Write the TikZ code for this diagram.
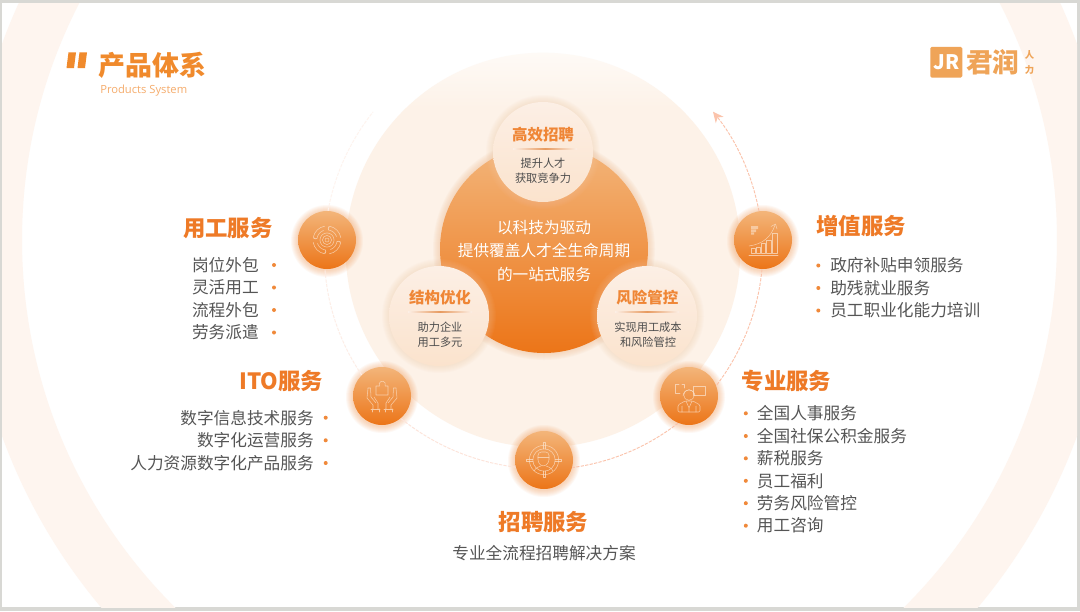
\documentclass[tikz,border=0pt]{standalone}
\usepackage{fontspec}
\setmainfont{Noto Sans CJK SC}
\newfontfamily\latinf{Open Sans}
\usetikzlibrary{arrows.meta}
\definecolor{framegray}{HTML}{D8D8D4}
\definecolor{ringpale}{HTML}{FEF5EF}
\definecolor{bigpale}{HTML}{FDF2E8}
\definecolor{bigtop}{HTML}{FEFAF6}
\definecolor{orangetop}{HTML}{F3B57A}
\definecolor{orangebot}{HTML}{EC7518}
\definecolor{glowor}{HTML}{F08A3C}
\definecolor{smalltop}{HTML}{FCEFE5}
\definecolor{smallbot}{HTML}{FBE3CD}
\definecolor{smallglow}{HTML}{F2C8A4}
\definecolor{heador}{HTML}{EE7A27}
\definecolor{paleor}{HTML}{EF8636}
\definecolor{titleor}{HTML}{F08A2C}
\definecolor{subor}{HTML}{F5AC6C}
\definecolor{logoor}{HTML}{EFA458}
\definecolor{bodygray}{HTML}{555555}
\definecolor{bulletor}{HTML}{F0893A}
\definecolor{dashA}{HTML}{FBC3AB}
\definecolor{dashB}{HTML}{FDE3D9}
\definecolor{dashC}{HTML}{FDEDE6}
\definecolor{dashD}{HTML}{FEF3EE}
\definecolor{iconline}{HTML}{FBE3CE}
\definecolor{divor}{HTML}{E79A5F}
\pgfdeclareverticalshading{discfade}{100bp}{color(0bp)=(bigpale); color(68bp)=(bigpale); color(75bp)=(bigtop); color(100bp)=(bigtop)}
\newcommand{\glowdisc}[5]{% x y r colour opacity
  \foreach \gi in {1,...,7}{\fill[#4,opacity=#5] (#1,#2) circle[radius={(#3+\gi)*0.75pt}];}}
\newcommand{\fsz}[1]{\fontsize{#1}{#1}\selectfont}
\tikzset{
  x=0.75pt,y=-0.75pt,
  iconball/.style={circle,inner sep=0pt,minimum size=43.5pt,top color=orangetop,bottom color=orangebot,draw=none},
  paleball/.style={circle,inner sep=0pt,minimum size=75pt,top color=smalltop,bottom color=smallbot,draw=none},
  corehub/.style={circle,inner sep=0pt,minimum size=156pt,top color=orangetop,bottom color=orangebot,draw=none},
  svctitle/.style={font=\bfseries\fsz{16.8},text=heador,inner sep=0pt},
  svcitem/.style={font=\fsz{12.5},text=bodygray,inner sep=0pt},
  dotmark/.style={circle,fill=bulletor,inner sep=0pt,minimum size=3pt},
  paletitle/.style={font=\bfseries\fsz{11.6},text=paleor,inner sep=0pt},
  palesub/.style={font=\fsz{8.4},text=bodygray!90!black,inner sep=0pt},
  ringdash/.style={line width=0.7pt,dash pattern=on 2.4pt off 1pt,looseness=0.87},
  iconpen/.style={draw=iconline,line width=0.4pt,line cap=round,line join=round,draw opacity=0.72},
}
\begin{document}
\begin{tikzpicture}
\useasboundingbox (0,0) rectangle (1080,611);
\fill[framegray] (0,0) rectangle (1080,611);
\fill[white] (2,3) rectangle (1077,607);
\begin{scope}
  \clip (2,3) rectangle (1077,607);
  \fill[ringpale,even odd rule] (539.5,240) circle[radius=429pt] (539.5,240) circle[radius=388.1pt];
\end{scope}
% big pale disc
\shade[shading=discfade] (543,250) circle[radius=148pt];
% title
\fill[titleor] (68.5,52.3) -- (76,52.3) -- (74,68) -- (66.5,68) -- cycle;
\fill[titleor] (79.5,52.3) -- (87,52.3) -- (85,68) -- (77.5,68) -- cycle;
\node[anchor=west,inner sep=0pt,font=\bfseries\fsz{20.2},text=titleor] (maintitle) at (98,65) {产品体系};
\node[anchor=west,inner sep=0pt,font=\latinf\fsz{8.4},text=subor] (subtitle) at (100,90.5) {Products System};
% logo
\node[anchor=north west,inner sep=0pt,minimum width=24pt,minimum height=23.2pt,rounded corners=1.2pt,fill=logoor,text=white,font=\bfseries\fsz{15}] (logobox) at (930,46.5) {JR};
\node[anchor=west,inner sep=0pt,font=\bfseries\fsz{20},text=logoor] (logoname) at (966,62) {君润};
\node[inner sep=0pt,font=\bfseries\fsz{7},text=logoor] (logoren) at (1029.5,54.5) {人};
\node[inner sep=0pt,font=\bfseries\fsz{7},text=logoor] (logoli) at (1029.5,69.5) {力};
% core and three pale balls
\glowdisc{544}{249}{104}{smallglow}{0.10}
\node[corehub] (core) at (544,249) {};
\node[align=center,inner sep=0pt,text=white,font=\fontsize{11.75}{17.4}\selectfont] (coretext) at (544,251) {以科技为驱动\\提供覆盖人才全生命周期\\的一站式服务};
\glowdisc{543}{152}{50}{smallglow}{0.05}
\glowdisc{439}{316}{50}{smallglow}{0.05}
\glowdisc{647}{316}{50}{smallglow}{0.05}
\node[paleball] (ballT) at (543,152) {};
\node[paleball] (ballL) at (439,316) {};
\node[paleball] (ballR) at (647,316) {};
\shade[left color=smalltop,right color=smalltop,middle color=divor] (513,148.8) rectangle (577,149.8);
\shade[left color=smalltop,right color=smalltop,middle color=divor] (408,311.5) rectangle (472,312.5);
\shade[left color=smalltop,right color=smalltop,middle color=divor] (615,311.5) rectangle (679,312.5);
\node[paletitle] (ballTh) at (543,134.3) {高效招聘};
\node[palesub,align=center,font=\fontsize{8.4}{11}\selectfont] (ballTs) at (543,170.8) {提升人才\\获取竞争力};
\node[paletitle] (ballLh) at (440,297.3) {结构优化};
\node[palesub,align=center,font=\fontsize{8.4}{11}\selectfont] (ballLs) at (440,334.8) {助力企业\\用工多元};
\node[paletitle] (ballRh) at (647.3,297.3) {风险管控};
\node[palesub,align=center,font=\fontsize{8.4}{11}\selectfont] (ballRs) at (648,334.8) {实现用工成本\\和风险管控};
% icon balls
\glowdisc{327}{241}{29}{glowor}{0.055}
\glowdisc{382}{397}{29}{glowor}{0.055}
\glowdisc{544}{461}{29}{glowor}{0.055}
\glowdisc{689}{397}{29}{glowor}{0.055}
\glowdisc{763}{241}{29}{glowor}{0.055}
\node[iconball] (yong) at (327,240) {};
\node[iconball] (ito) at (382,396) {};
\node[iconball] (zhao) at (544,460) {};
\node[iconball] (zhuan) at (689,396) {};
\node[iconball] (zeng) at (763,240) {};
% ring connectors
\coordinate (ringtip) at (713,111.7);
\coordinate (ringend) at (373,112);
\draw[ringdash,dashA,-{Stealth[length=8pt,width=7.5pt,inset=2.5pt]}] (zeng.98) to[bend right=14] (ringtip);
\draw[ringdash,dashA] (zeng.-92) to[bend left=16] (zhuan.21);
\draw[ringdash,dashA] (zhuan.-112) to[bend left=15] (zhao.-15);
\draw[ringdash,dashB] (zhao.194) to[bend left=16] (ito.-50);
\draw[ringdash,dashC] (ito.134) to[bend left=15] (yong.-94);
\draw[ringdash,dashD] (yong.88) to[bend left=14] (ringend);
% icon: yong
\begin{scope}[shift={(327,240)},iconpen]
  \draw (0,0) circle[radius=1.5pt] (0,0) circle[radius=3.4pt] (0,0) circle[radius=5.3pt];
  \foreach \a in {10,100,190,280}{
    \draw ([shift={(\a:10.5pt)}]0,0) arc[start angle=\a,delta angle=68,radius=10.5pt] -- ++(\a+68+150:2.2pt);
    \draw ([shift={(\a+10:7.6pt)}]0,0) arc[start angle=\a+10,delta angle=62,radius=7.6pt] -- ([shift={(\a+72:10.5pt)}]0,0);
  }
\end{scope}
% icon: ito
\begin{scope}[shift={(382,396)},iconpen]
  \draw (-6,-10) -- (-2.5,-10) arc[start angle=210,end angle=-30,radius=2.4pt] -- (6,-10) -- (6,-1) -- (-6,-1) -- cycle;
  \draw (-14,-8) -- (-15,2) -- (-9,9) -- (-9,13);
  \draw (-14,-8) -- (-11.5,-8) -- (-11,1) -- (-6,7);
  \draw (-4,13) -- (-4,7) -- (-8,1);
  \draw (-11,13) -- (-2,13) (-10,16) -- (-10,13) (-3,16) -- (-3,13);
  \draw (14,-8) -- (15,2) -- (9,9) -- (9,13);
  \draw (14,-8) -- (11.5,-8) -- (11,1) -- (6,7);
  \draw (4,13) -- (4,7) -- (8,1);
  \draw (11,13) -- (2,13) (10,16) -- (10,13) (3,16) -- (3,13);
\end{scope}
% icon: zhao
\begin{scope}[shift={(544,460)},iconpen]
  \draw (0,0) circle[radius=11pt];
  \draw (0,0) circle[radius=8.4pt];
  \foreach \dx/\dy in {0/-1,1/0,0/1,-1/0}{
    \draw ({\dx*11-\dy*1.2},{\dy*11-\dx*1.2}) -- ({\dx*17.5-\dy*1.2},{\dy*17.5-\dx*1.2}) -- ({\dx*17.5+\dy*1.2},{\dy*17.5+\dx*1.2}) -- ({\dx*11+\dy*1.2},{\dy*11+\dx*1.2});
  }
  \draw[rounded corners=2.5pt] (-6,-8) -- (5,-8) -- (5,3) -- (-1,7) -- (-6,3) -- cycle;
  \draw (-6,-3) -- (5,-3);
  \draw (-10,11) .. controls (-8,7) and (-5,7) .. (-3,6);
  \draw (9,11) .. controls (7,7) and (4,7) .. (2,6);
\end{scope}
% icon: zhuan
\begin{scope}[shift={(689,396)},iconpen]
  \draw (-9,-3) -- (-14,-3) -- (-14,-12) -- (-10,-12) (-7,-12) -- (-5,-12) -- (-5,-8);
  \draw (4,-10) rectangle (16,-1);
  \draw (0,-1) circle[radius=4pt];
  \draw (-6,0) arc[start angle=180,end angle=0,radius=4.5pt];
  \draw[rounded corners=1pt] (-11,16) -- (-11,9) -- (-4,5) -- (4,5) -- (11,9) -- (11,16) -- cycle;
  \draw (-3,5) -- (0,12) -- (3,5) (0,12) -- (0,16) (-7,10) -- (-7,16) (7,10) -- (7,16);
\end{scope}
% icon: zeng
\begin{scope}[shift={(763,240)},iconpen]
  \fill[iconline,opacity=0.6] (-12,-14) rectangle (-5,-11) (-12,-10.5) rectangle (-7,-8) (-12,-7.5) rectangle (-9,-5.5);
  \draw (-14,15) -- (15,15);
  \draw (-12,13) rectangle (-8,8);
  \draw (-7,13) rectangle (-3,7);
  \draw (-2,13) rectangle (2,3);
  \draw (3.5,13) rectangle (8,0);
  \draw (9.5,13) rectangle (14,-7);
  \draw (-14,6) .. controls (0,4) and (8,-3) .. (12,-15);
  \draw (8,-13.5) -- (12.5,-16) -- (14,-11);
\end{scope}
% yong text
\node[svctitle,anchor=east] (yongh) at (273,228) {用工服务};
\foreach \nm/\yy/\tx in {ya/265/岗位外包,yb/287.5/灵活用工,yc/310/流程外包,yd/332.5/劳务派遣}{
  \node[svcitem,anchor=east] (\nm) at (259,\yy) {\tx};
  \node[dotmark] (\nm dot) at (274,\yy) {};
}
% ito text
\node[svctitle,anchor=east] (itoh) at (323.5,381) {ITO服务};
\foreach \nm/\yy/\tx in {ia/417.7/数字信息技术服务,ib/440.3/数字化运营服务,ic/463/人力资源数字化产品服务}{
  \node[svcitem,anchor=east] (\nm) at (314,\yy) {\tx};
  \node[dotmark] (\nm dot) at (325.7,\yy) {};
}
% zhao text
\node[svctitle] (zhaoh) at (543.5,521.7) {招聘服务};
\node[svcitem] (zhaos) at (544,553.3) {专业全流程招聘解决方案};
% zeng text
\node[svctitle,anchor=west] (zengh) at (816,225.5) {增值服务};
\foreach \nm/\yy/\tx in {za/265.5/政府补贴申领服务,zb/288/助残就业服务,zc/310.5/员工职业化能力培训}{
  \node[svcitem,anchor=west] (\nm) at (830,\yy) {\tx};
  \node[dotmark] (\nm dot) at (818.3,\yy) {};
}
% zhuan text
\node[svctitle,anchor=west] (zhuanh) at (741.5,381) {专业服务};
\foreach \nm/\yy/\tx in {pa/413.3/全国人事服务,pb/436/全国社保公积金服务,pc/458.3/薪税服务,pd/480.8/员工福利,pe/503.2/劳务风险管控,pf/525.7/用工咨询}{
  \node[svcitem,anchor=west] (\nm) at (756.7,\yy) {\tx};
  \node[dotmark] (\nm dot) at (745.8,\yy) {};
}
\end{tikzpicture}
\end{document}
